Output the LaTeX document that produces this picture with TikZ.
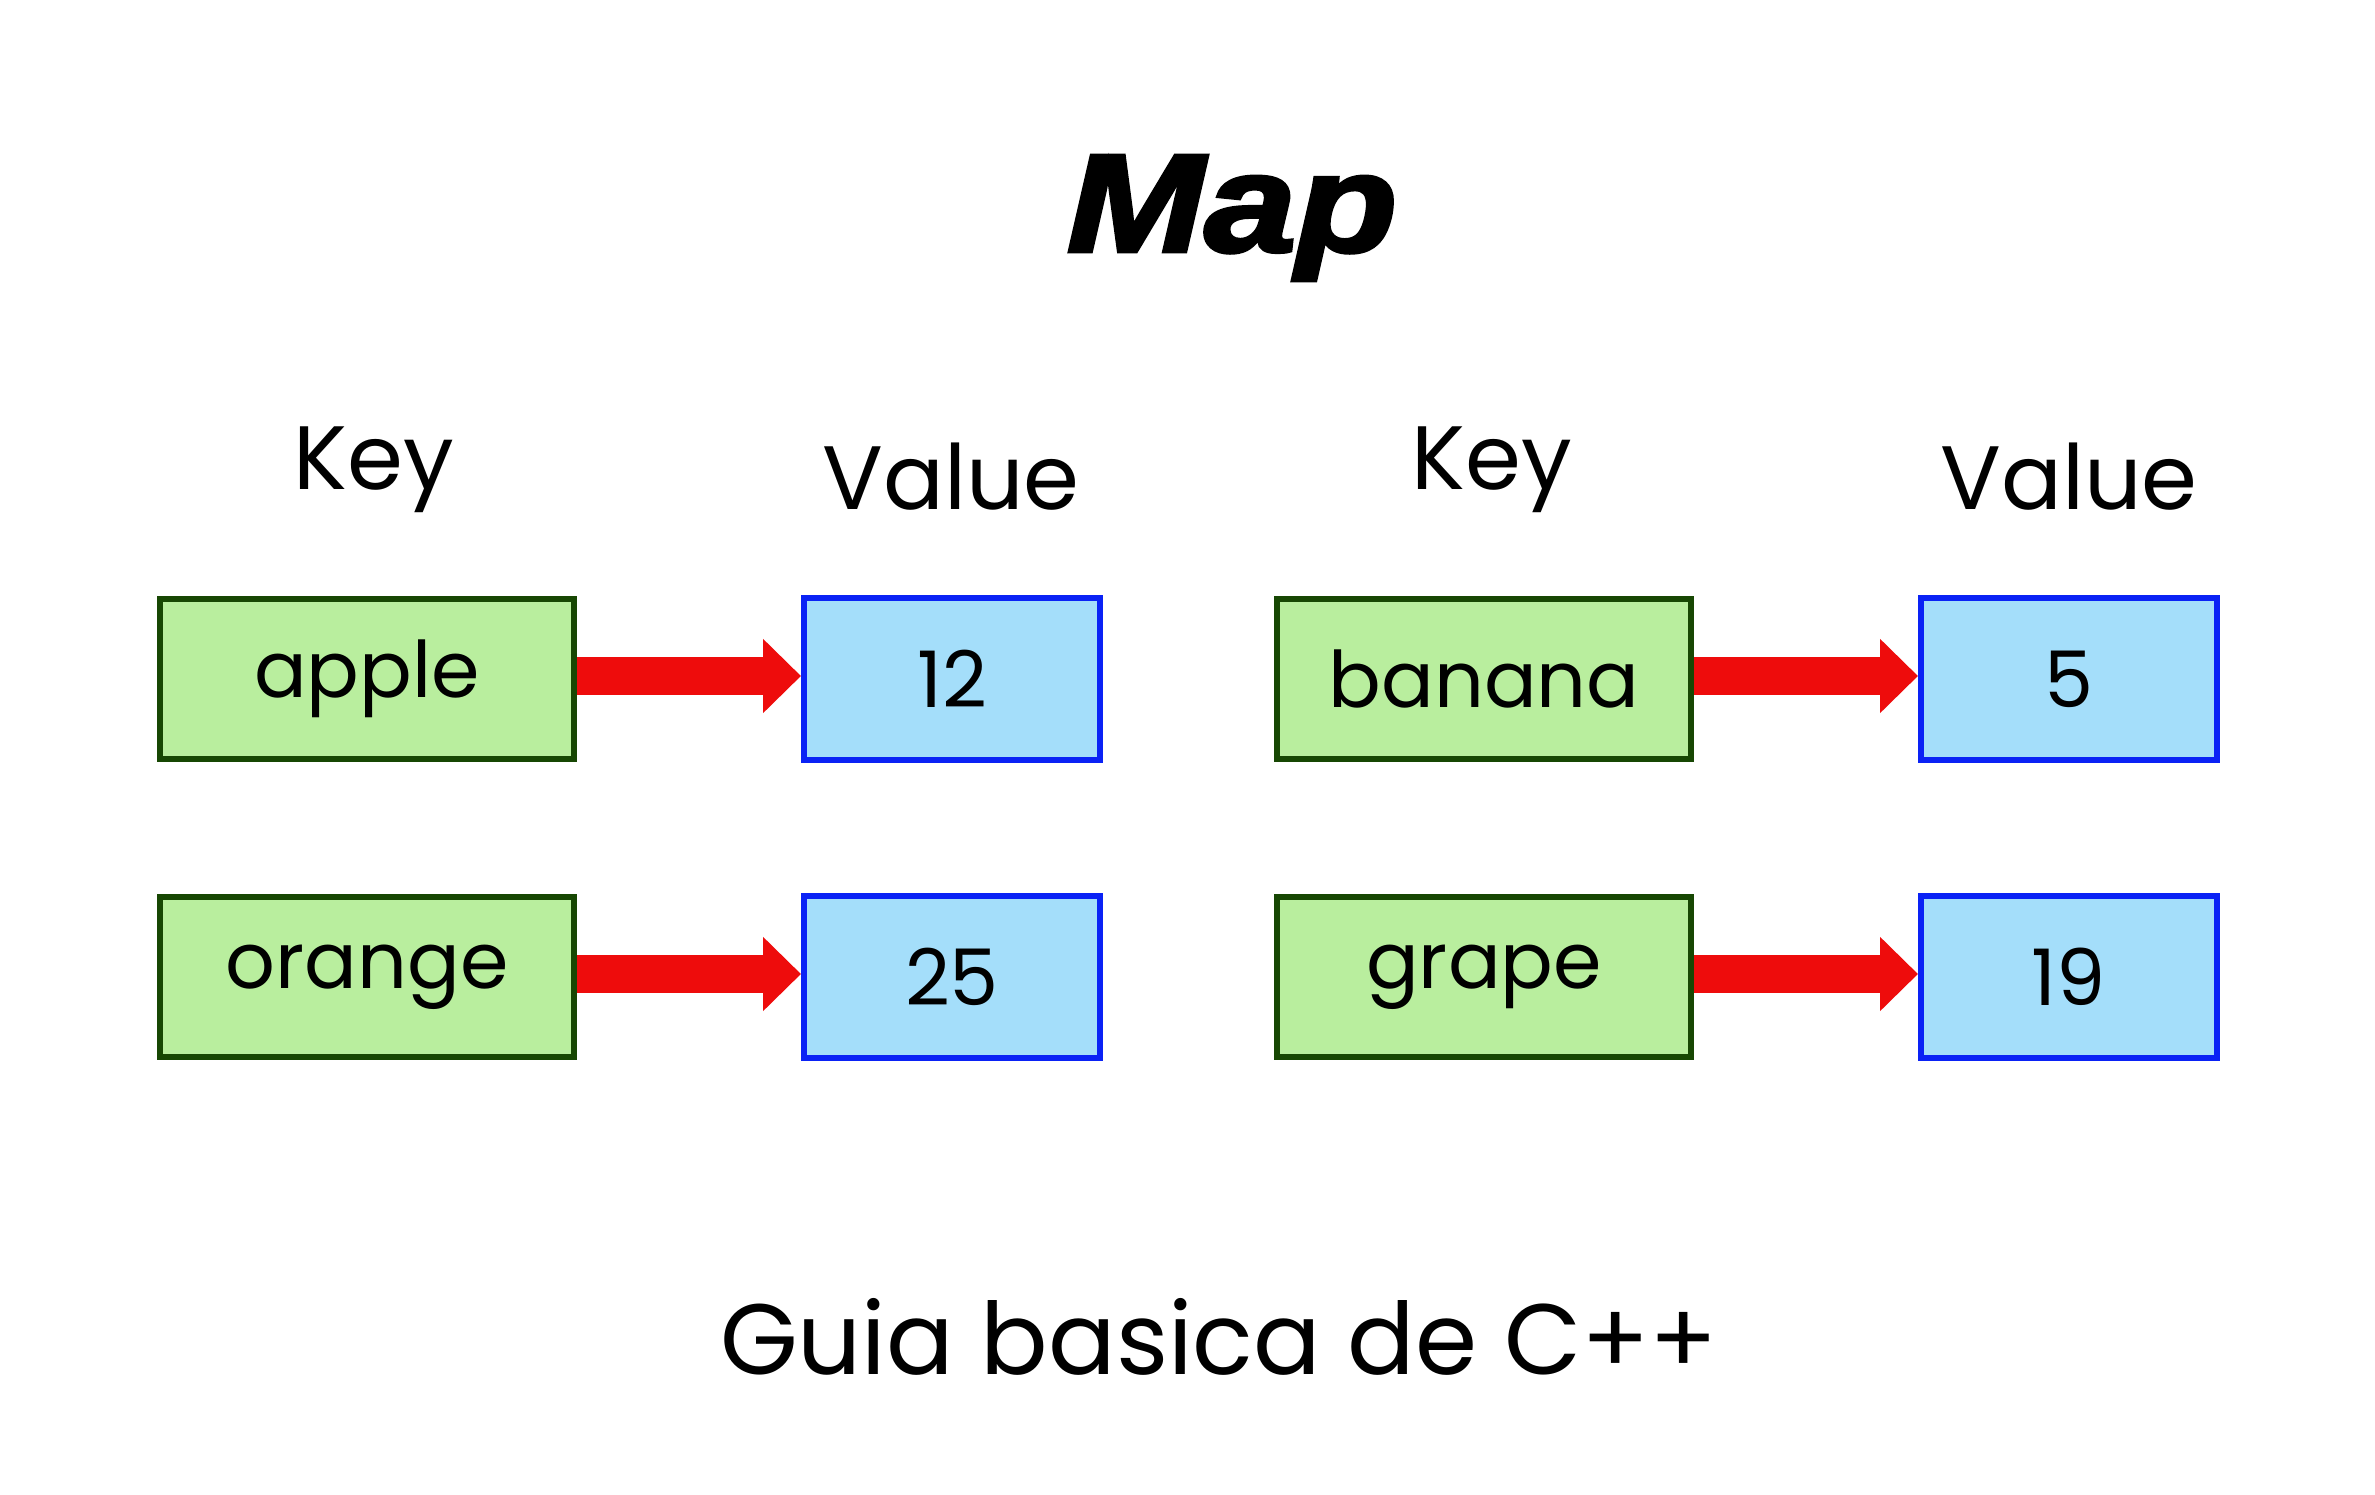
\documentclass[tikz,border=0pt]{standalone}
\usepackage{fontspec}
\setmainfont{Poppins}
\newfontfamily\titlefont{Liberation Sans}[BoldItalicFeatures={FakeBold=2.5}]
\usetikzlibrary{arrows.meta}
\definecolor{keyfill}{HTML}{B9EE9E}
\definecolor{keydraw}{HTML}{174703}
\definecolor{valfill}{HTML}{A4DEFA}
\definecolor{valdraw}{HTML}{0A22F5}
\definecolor{arrred}{HTML}{EE0C0C}
\begin{document}
\begin{tikzpicture}[x=1pt,y=-1pt,
  keybox/.style={draw=keydraw, fill=keyfill, line width=6.5pt, minimum width=414pt, minimum height=160pt, inner sep=0pt, font=\fontsize{78}{90}\selectfont},
  valbox/.style={draw=valdraw, fill=valfill, line width=6pt, minimum width=296pt, minimum height=162pt, inner sep=0pt, font=\fontsize{78}{90}\selectfont},
  head/.style={font=\fontsize{90}{100}\selectfont, inner sep=0pt},
  link/.style={draw=arrred, line width=38pt, -{Triangle[width=72pt,length=38pt]}}]
\path[use as bounding box, fill=white] (0,0) rectangle (2375,1495);
\node[font=\titlefont\bfseries\itshape\fontsize{140}{150}\selectfont, inner sep=0pt, xscale=1.18] (title) at (1232,218) {Map};
\node[head] (k1) at (374,470) {Key};
\node[head] (v1) at (951,477) {Value};
\node[head] (k2) at (1492,470) {Key};
\node[head] (v2) at (2069,477) {Value};
\node[keybox] (apple) at (367,679) {apple};
\node[valbox] (n12) at (952,679) {12};
\node[keybox] (orange) at (367,977) {orange};
\node[valbox] (n25) at (952,977) {25};
\node[keybox] (banana) at (1484,679) {banana};
\node[valbox] (n5) at (2069,679) {5};
\node[keybox] (grape) at (1484,977) {grape};
\node[valbox] (n19) at (2069,977) {19};
\draw[link] ([yshift=3pt]apple.east) -- ([yshift=3pt]n12.west);
\draw[link] ([yshift=3pt]orange.east) -- ([yshift=3pt]n25.west);
\draw[link] ([yshift=3pt]banana.east) -- ([yshift=3pt]n5.west);
\draw[link] ([yshift=3pt]grape.east) -- ([yshift=3pt]n19.west);
\node[font=\fontsize{100}{110}\selectfont, inner sep=0pt] (foot) at (1219,1337) {Guia basica de C++};
\end{tikzpicture}
\end{document}
